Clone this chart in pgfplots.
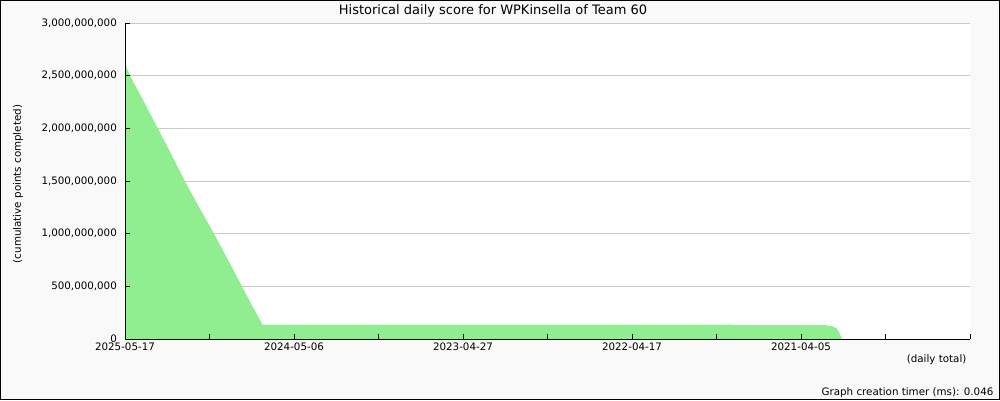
\documentclass[border=0pt]{standalone}
\usepackage{fontspec}
\setmainfont{DejaVu Sans}
\usepackage{pgfplots}
\pgfplotsset{compat=1.18}
\definecolor{bgc}{HTML}{F9F9F9}
\definecolor{fillg}{HTML}{90EE90}
\definecolor{gridc}{HTML}{C8C8C8}
\pgfplotsset{base/.style={
  scale only axis,
  width=845pt, height=316pt,
  at={(125pt,61pt)}, anchor=south west,
  xmin=0, xmax=1880, ymin=0, ymax=3000000000,
  axis x line=bottom, axis y line=left,
  axis line style={-, black, line width=1pt},
  tick align=inside,
  major tick length=5pt,
  tick style={black, line width=1pt},
  xtick={0,188,...,1880},
  ytick={0,500000000,1000000000,1500000000,2000000000,2500000000,3000000000},
  scaled y ticks=false,
}}
\begin{document}
\fontsize{10.3pt}{12.4pt}\selectfont
\begin{tikzpicture}[x=1pt,y=1pt]
\useasboundingbox (0,0) rectangle (1000,400);
\draw[black, line width=1pt, fill=bgc] (0.5,0.5) rectangle (999.5,399.5);
\begin{axis}[
  base,
  axis background/.style={fill=white},
  xticklabels={2025-05-17,,2024-05-06,,2023-04-27,,2022-04-17,,2021-04-05,,},
  yticklabels={{\raisebox{1.5pt}{0}},{500,000,000},{1,000,000,000},{1,500,000,000},{2,000,000,000},{2,500,000,000},{3,000,000,000}},
  ymajorgrids,
  major grid style={gridc, line width=1pt},
  yticklabel style={xshift=-4.5pt},
  xticklabel style={yshift=-0.5pt},
]
\addplot[fill=fillg, draw=none] coordinates {
(0,2620000000) (11,2500000000) (40,2270000000) (73,2000000000) (100,1780000000)
(133,1500000000) (165,1250000000) (198,1000000000) (230,745000000) (260,500000000)
(285,300000000) (306,137000000) (1561,135000000) (1562,127000000) (1575,120000000)
(1583,101000000) (1590,54000000) (1595,0)
} \closedcycle;
\end{axis}
\begin{axis}[
  base,
  xticklabels={}, yticklabels={},
]
\end{axis}
\node[font=\fontsize{13pt}{15pt}\selectfont] at (493,389) {Historical daily score for WPKinsella of Team 60};
\node[rotate=90] at (18,216) {(cumulative points completed)};
\node[anchor=east] at (970,40) {(daily total)};
\node[anchor=east] at (997,7.5) {Graph creation timer (ms): 0.046};
\end{tikzpicture}
\end{document}
